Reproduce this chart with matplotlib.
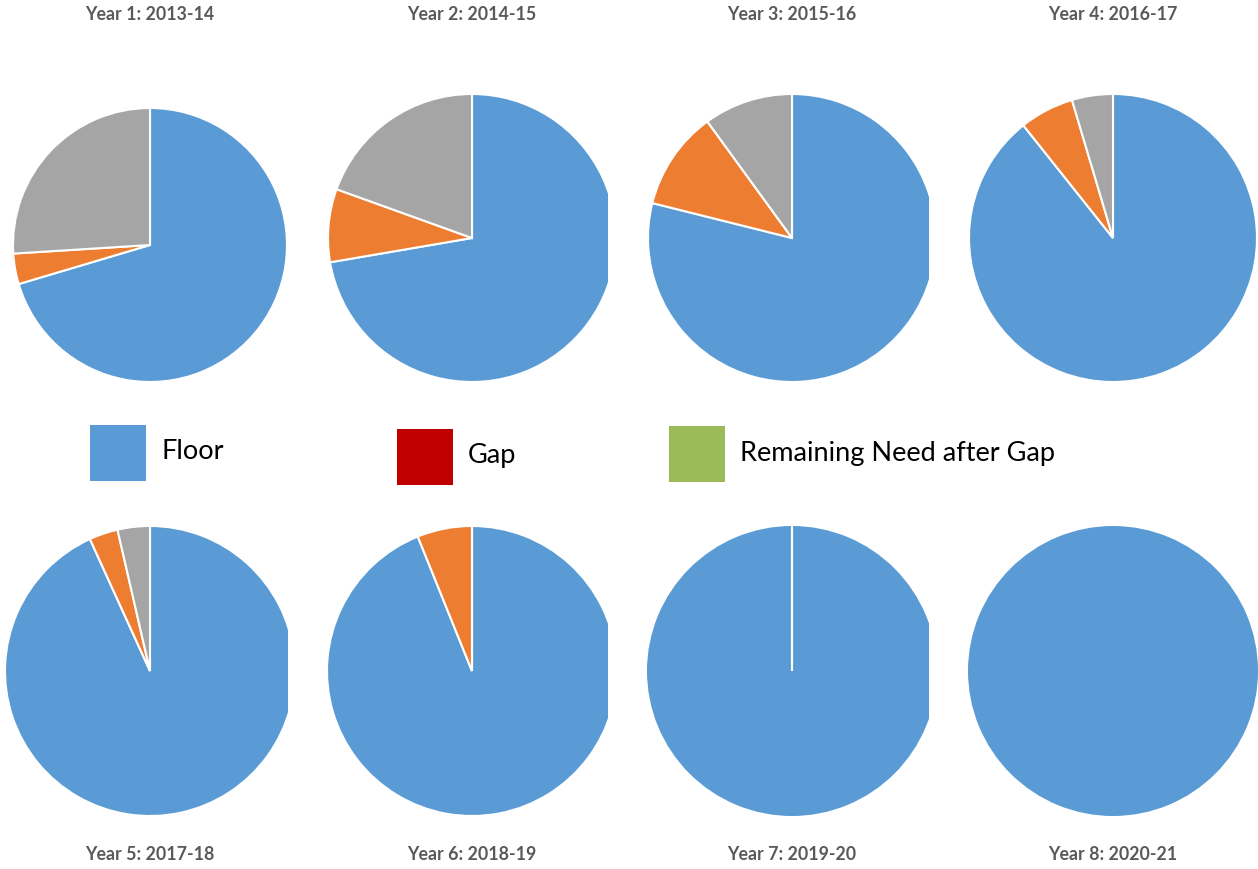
import numpy as np
import matplotlib
matplotlib.use("Agg")
import matplotlib.pyplot as plt
from matplotlib.patches import Rectangle

# share of need covered each year (percent)
years = ["Year 1: 2013-14", "Year 2: 2014-15", "Year 3: 2015-16", "Year 4: 2016-17",
         "Year 5: 2017-18", "Year 6: 2018-19", "Year 7: 2019-20", "Year 8: 2020-21"]
floor = [70.4, 72.3, 78.9, 89.3, 93.2, 93.9, 100.0, 100.0]
gap = [3.6, 8.2, 11.1, 6.1, 3.2, 6.1, 0.0, np.nan]
remaining = [26.0, 19.5, 10.0, 4.6, 3.6, 0.0, 0.0, np.nan]

pie_colors = ["#5B9BD5", "#ED7D31", "#A5A5A5"]

legend_labels = ["Floor", "Gap", "Remaining Need after Gap"]
legend_colors = ["#5B9BD5", "#C00000", "#9BBB59"]

W, H = 1258, 870
fig = plt.figure(figsize=(W / 100, H / 100), dpi=100)

# pie centre / radius in pixels, and right-hand cut of each column
layout = [(150, 246, 137), (472, 239, 144), (792, 239, 144), (1113, 239, 144),
          (150, 672, 145), (472, 672, 145), (792, 672, 145), (1113, 672, 145)]
clip_right = [288, 608, 929, 1258]
pad = 3

for i, name in enumerate(years):
    cx, cy, r = layout[i]
    vals = [floor[i], gap[i], remaining[i]]
    keep = [k for k, v in enumerate(vals) if not np.isnan(v)]
    vals = [vals[k] for k in keep]
    cols = [pie_colors[k] for k in keep]

    left = cx - r - pad
    right = min(cx + r + pad, clip_right[i % 4])
    ax = fig.add_axes([left / W, 1 - (cy + r + pad) / H,
                       (right - left) / W, (2 * r + 2 * pad) / H])
    wedges, _ = ax.pie(vals, colors=cols, startangle=90, counterclock=False,
                       wedgeprops=dict(edgecolor="white", linewidth=1.5))
    for w in wedges:
        w.set_clip_on(True)
        # a full circle gets no border, otherwise a spoke is drawn at 3 o'clock
        if abs((w.theta2 - w.theta1) - 360) < 1e-6:
            w.set_linewidth(0)
    ax.set_xlim(-(r + pad) / r, (right - cx) / r)
    ax.set_ylim(-(r + pad) / r, (r + pad) / r)
    ax.set_aspect("auto")
    ax.axis("off")

    ty = 14 if i < 4 else 855
    fig.text(cx / W, 1 - ty / H, name, ha="center", va="center",
             fontsize=12.8, fontweight="bold", color="#595959", family="Lato")

# legend row between the two rows of pies
box_x = [90, 397, 669]
box_y = [426, 430, 427]
for lab, col, bx, by in zip(legend_labels, legend_colors, box_x, box_y):
    fig.add_artist(Rectangle((bx / W, 1 - (by + 56) / H), 56 / W, 56 / H,
                             transform=fig.transFigure, color=col, lw=0))
    fig.text((bx + 71) / W, 1 - (by + 26) / H, lab, ha="left", va="center",
             fontsize=19.5, color="black", family="Lato")

fig.savefig("out.png", dpi=100)
